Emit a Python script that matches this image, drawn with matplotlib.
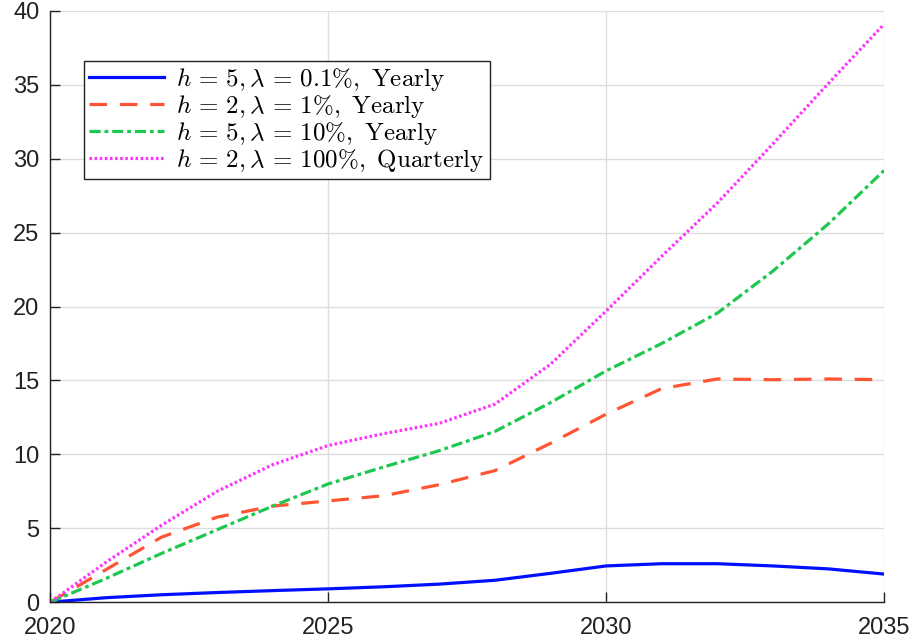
import matplotlib.pyplot as plt

plt.rcParams['mathtext.fontset'] = 'cm'
plt.rcParams['font.family'] = ['Liberation Sans', 'DejaVu Sans']

# yearly values
years = list(range(2020, 2036))
h5_l01_yearly = [0, 0.3, 0.5, 0.65, 0.78, 0.9, 1.04, 1.22, 1.48, 1.95, 2.45, 2.6, 2.6, 2.45, 2.25, 1.9]
h2_l1_yearly = [0, 2.2, 4.4, 5.75, 6.5, 6.85, 7.2, 7.95, 8.9, 10.75, 12.72, 14.45, 15.1, 15.05, 15.1, 15.05]
h5_l10_yearly = [0, 1.6, 3.3, 4.9, 6.5, 8.0, 9.15, 10.25, 11.55, 13.5, 15.65, 17.5, 19.55, 22.4, 25.6, 29.2]
h2_l100_quarterly = [0, 2.7, 5.2, 7.5, 9.3, 10.6, 11.4, 12.1, 13.4, 16.1, 19.7, 23.4, 27.0, 31.0, 35.1, 39.1]

labels = [r'$h\,=\,5, \lambda\,=\,0.1\%,\ \mathrm{Yearly}$',
          r'$h\,=\,2, \lambda\,=\,1\%,\ \mathrm{Yearly}$',
          r'$h\,=\,5, \lambda\,=\,10\%,\ \mathrm{Yearly}$',
          r'$h\,=\,2, \lambda\,=\,100\%,\ \mathrm{Quarterly}$']

fig = plt.figure(figsize=(9.17, 6.44), dpi=100)
ax = fig.add_axes([0.055, 0.065, 0.909, 0.918])

lw = 2.3
ax.plot(years, h5_l01_yearly, color='#0010FF', lw=lw, label=labels[0])
ax.plot(years, h2_l1_yearly, color='#FF5533', lw=lw, linestyle=(0, (5.5, 4)), label=labels[1])
ax.plot(years, h5_l10_yearly, color='#1EC850', lw=lw, linestyle=(0, (3.5, 1.2, 1.2, 1.2)), label=labels[2])
ax.plot(years, h2_l100_quarterly, color='#FF33FF', lw=lw, linestyle=(0, (0.8, 0.8)), label=labels[3])

ax.set_xlim(2020, 2035)
ax.set_ylim(0, 40)
ax.set_xticks([2020, 2025, 2030, 2035])
ax.set_yticks(range(0, 41, 5))
ax.tick_params(direction='in', length=7, width=1, labelsize=17, colors='#222222')
ax.tick_params(axis='x', pad=11)
ax.tick_params(axis='y', pad=8)
ax.grid(True, color='#DDDDDD', lw=1)
ax.set_axisbelow(True)
for s in ['top', 'right']:
    ax.spines[s].set_visible(False)
for s in ['left', 'bottom']:
    ax.spines[s].set_color('#222222')
    ax.spines[s].set_linewidth(1)

leg = ax.legend(loc='upper left', bbox_to_anchor=(0.04, 0.915), borderaxespad=0,
                fontsize=18, handlelength=3.0, handletextpad=0.5, labelspacing=0.0,
                borderpad=0.2, fancybox=False, framealpha=1, edgecolor='#222222')
leg.get_frame().set_linewidth(1)

fig.savefig('out.png', dpi=100)
